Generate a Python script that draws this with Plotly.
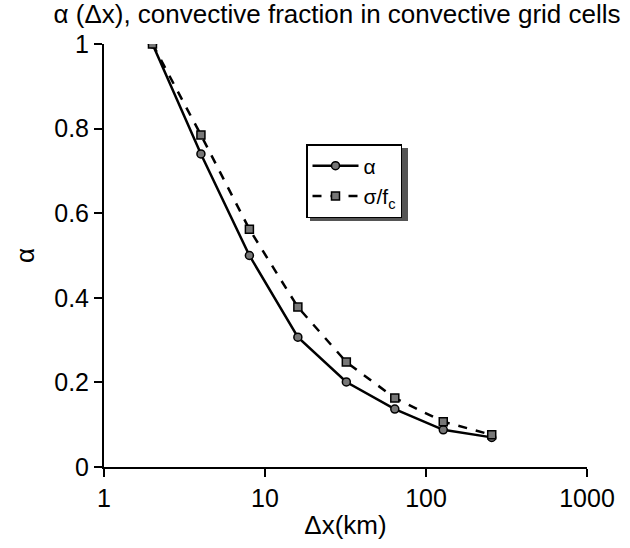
import plotly.graph_objects as go

dx_km = [2, 4, 8, 16, 32, 64, 128, 256]
alpha_vals = [1.0, 0.74, 0.50, 0.307, 0.201, 0.137, 0.088, 0.070]
sigma_fc_vals = [1.0, 0.785, 0.562, 0.378, 0.248, 0.163, 0.107, 0.076]
x_ticks = [1, 10, 100, 1000]
y_ticks = [0, 0.2, 0.4, 0.6, 0.8, 1]
y_tick_text = ["0", "0.2", "0.4", "0.6", "0.8", "1"]

FONT = "Liberation Sans, Arial, sans-serif"

L, R, T, B = 104, 43, 44, 81
PW, PH = 630 - L - R, 548 - T - B


def px_x(p):
    return (p - L) / PW


def px_y(p):
    return (548 - B - p) / PH


fig = go.Figure()
fig.add_trace(go.Scatter(
    x=dx_km, y=alpha_vals, mode="lines+markers", name="α",
    line=dict(color="black", width=2.5),
    marker=dict(symbol="circle", size=8, color="#777777",
                line=dict(color="black", width=1.5)),
))
fig.add_trace(go.Scatter(
    x=dx_km, y=sigma_fc_vals, mode="lines+markers", name="σ/f<sub>c</sub>",
    line=dict(color="black", width=2.5, dash="dash"),
    marker=dict(symbol="square", size=8, color="#777777",
                line=dict(color="black", width=1.5)),
))

# legend drop shadow
fig.add_shape(type="rect", xref="paper", yref="paper",
              x0=px_x(310), x1=px_x(408), y0=px_y(221), y1=px_y(148),
              fillcolor="#555555", line=dict(width=0), layer="below")

fig.update_layout(
    width=630, height=548,
    margin=dict(l=L, r=R, t=T, b=B),
    paper_bgcolor="white", plot_bgcolor="white",
    font=dict(family=FONT, size=25, color="black"),
    title=dict(text="α (Δx), convective fraction in convective grid cells",
               x=px_x(337), xanchor="center", xref="paper",
               y=1 - 5 / 548, yanchor="top",
               font=dict(family=FONT, size=26)),
    showlegend=True,
    legend=dict(x=px_x(306), y=px_y(144), xanchor="left", yanchor="top",
                bgcolor="white", bordercolor="black", borderwidth=1.5,
                font=dict(family=FONT, size=21), itemwidth=46,
                tracegroupgap=0),
    xaxis=dict(type="log", range=[0, 3], tickvals=x_ticks,
               ticktext=[str(v) for v in x_ticks],
               tickfont=dict(family=FONT, size=25),
               showgrid=False, zeroline=False, showline=True,
               linecolor="black", linewidth=2, ticks="outside",
               tickcolor="black", tickwidth=1.5, ticklen=8,
               title=dict(text="Δx(km)", standoff=5,
                          font=dict(family=FONT, size=26))),
    yaxis=dict(range=[0, 1], tickvals=y_ticks, ticktext=y_tick_text,
               tickfont=dict(family=FONT, size=25),
               showgrid=False, zeroline=False, showline=True,
               linecolor="black", linewidth=2, ticks="outside",
               tickcolor="black", tickwidth=1.5, ticklen=8,
               title=dict(text="α", standoff=12,
                          font=dict(family=FONT, size=26))),
)

fig.write_html("out.html")
